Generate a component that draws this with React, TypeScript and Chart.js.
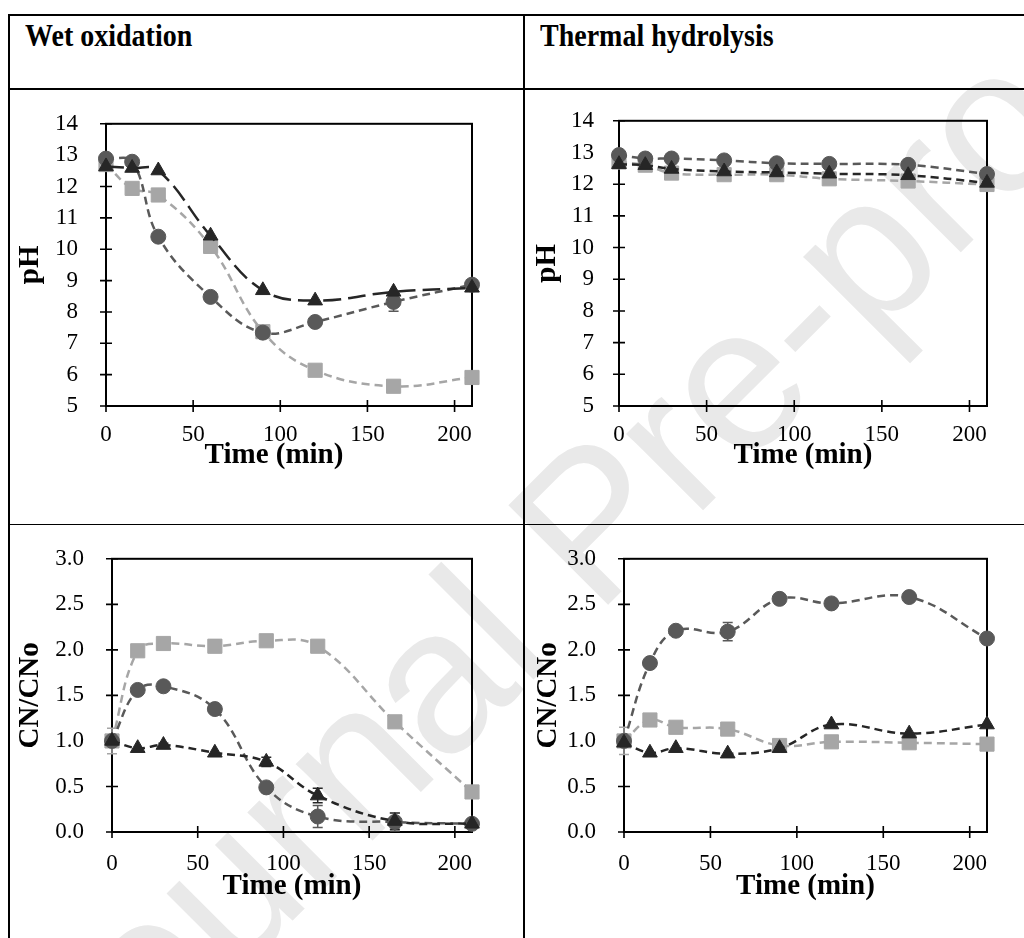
import React, { useEffect, useRef } from "react";
import { Chart, registerables } from "chart.js";
Chart.register(...registerables);

// ---------- data ----------
const times = [0, 15, 30, 60, 90, 120, 165, 210];
const xTickValues = [0, 50, 100, 150, 200];

// Wet oxidation – pH
const woPhCircle = [12.89, 12.79, 10.4, 8.48, 7.34, 7.68, 8.32, 8.87];
const woPhSquare = [12.7, 11.94, 11.73, 10.09, 7.37, 6.14, 5.63, 5.91];
const woPhTriangle = [12.64, 12.59, 12.51, 10.43, 8.69, 8.36, 8.64, 8.77];
const woPhCircleErr = [0, 0, 0, 0, 0, 0, 0.3, 0];
const woPhSquareErr = [0, 0, 0, 0, 0, 0, 0, 0];
const woPhTriangleErr = [0, 0, 0, 0, 0, 0, 0, 0];

// Thermal hydrolysis – pH
const thPhCircle = [12.92, 12.81, 12.81, 12.75, 12.66, 12.64, 12.61, 12.32];
const thPhSquare = [12.7, 12.6, 12.35, 12.3, 12.3, 12.17, 12.1, 11.99];
const thPhTriangle = [12.63, 12.6, 12.48, 12.4, 12.37, 12.33, 12.28, 12.04];
const thPhCircleErr = [0, 0, 0, 0, 0, 0, 0, 0];
const thPhSquareErr = [0, 0, 0, 0, 0, 0, 0, 0];
const thPhTriangleErr = [0, 0, 0, 0, 0, 0, 0, 0];

// Wet oxidation – CN/CNo
const woCnCircle = [1.0, 1.56, 1.6, 1.35, 0.49, 0.17, 0.11, 0.09];
const woCnSquare = [1.0, 1.99, 2.07, 2.04, 2.1, 2.04, 1.21, 0.44];
const woCnTriangle = [1.0, 0.92, 0.955, 0.87, 0.77, 0.4, 0.12, 0.09];
const woCnCircleErr = [0, 0, 0, 0, 0.05, 0.12, 0.1, 0];
const woCnSquareErr = [0.14, 0, 0, 0.07, 0, 0, 0, 0];
const woCnTriangleErr = [0.02, 0, 0.02, 0, 0.05, 0.08, 0.09, 0];

// Thermal hydrolysis – CN/CNo
const thCnCircle = [1.0, 1.855, 2.21, 2.2, 2.56, 2.51, 2.58, 2.125];
const thCnSquare = [1.0, 1.23, 1.15, 1.13, 0.95, 0.99, 0.98, 0.965];
const thCnTriangle = [0.98, 0.87, 0.92, 0.86, 0.92, 1.18, 1.08, 1.18];
const thCnCircleErr = [0, 0, 0, 0.1, 0.04, 0.04, 0.05, 0];
const thCnSquareErr = [0.15, 0, 0, 0, 0, 0, 0, 0];
const thCnTriangleErr = [0, 0, 0, 0, 0, 0, 0, 0];

const columnTitles = ["Wet oxidation", "Thermal hydrolysis"];
const phTitle = "pH";
const cnTitle = "CN/CNo";
const timeTitle = "Time (min)";
const watermark = "Journal Pre-proof";

// ---------- styles ----------
const CIRCLE = "#595959";
const SQUARE = "#a6a6a6";
const TRIANGLE = "#262626";
const SERIF = "'Liberation Serif', 'Times New Roman', serif";

type Rect = { left: number; top: number; width: number; height: number };
type Plot = { left: number; top: number; right: number; bottom: number };

type Panel = {
  canvas: Rect;
  plot: Plot;
  yMin: number;
  yMax: number;
  yStep: number;
  yDecimals: number;
  yTitle: string;
  circle: number[];
  square: number[];
  triangle: number[];
  circleErr: number[];
  squareErr: number[];
  triangleErr: number[];
  triangleDash: number[];
  yTitleX: number;
  xTitleY: number;
  xTitleShift: number;
  xTickPad: number;
  yTickPad: number;
};

const SHORT = [8, 5];
const LONG = [18, 7];

const panels: Panel[] = [
  {
    canvas: { left: 10, top: 90, width: 514, height: 434 },
    plot: { left: 106, top: 117, right: 472, bottom: 406 },
    yMin: 5, yMax: 14, yStep: 1, yDecimals: 0, yTitle: phTitle,
    circle: woPhCircle, square: woPhSquare, triangle: woPhTriangle,
    circleErr: woPhCircleErr, squareErr: woPhSquareErr, triangleErr: woPhTriangleErr,
    triangleDash: LONG, yTitleX: 31, xTitleY: 456, xTitleShift: -15, xTickPad: 7, yTickPad: 20,
  },
  {
    canvas: { left: 525, top: 90, width: 499, height: 434 },
    plot: { left: 619, top: 117, right: 987, bottom: 406 },
    yMin: 5, yMax: 14, yStep: 1, yDecimals: 0, yTitle: phTitle,
    circle: thPhCircle, square: thPhSquare, triangle: thPhTriangle,
    circleErr: thPhCircleErr, squareErr: thPhSquareErr, triangleErr: thPhTriangleErr,
    triangleDash: SHORT, yTitleX: 548, xTitleY: 456, xTitleShift: 0, xTickPad: 7, yTickPad: 17,
  },
  {
    canvas: { left: 10, top: 525, width: 514, height: 413 },
    plot: { left: 112, top: 543, right: 472, bottom: 832 },
    yMin: 0, yMax: 3, yStep: 0.5, yDecimals: 1, yTitle: cnTitle,
    circle: woCnCircle, square: woCnSquare, triangle: woCnTriangle,
    circleErr: woCnCircleErr, squareErr: woCnSquareErr, triangleErr: woCnTriangleErr,
    triangleDash: SHORT, yTitleX: 31, xTitleY: 887, xTitleShift: 0, xTickPad: 10, yTickPad: 20,
  },
  {
    canvas: { left: 525, top: 525, width: 499, height: 413 },
    plot: { left: 624, top: 543, right: 987, bottom: 832 },
    yMin: 0, yMax: 3, yStep: 0.5, yDecimals: 1, yTitle: cnTitle,
    circle: thCnCircle, square: thCnSquare, triangle: thCnTriangle,
    circleErr: thCnCircleErr, squareErr: thCnSquareErr, triangleErr: thCnTriangleErr,
    triangleDash: SHORT, yTitleX: 549, xTitleY: 887, xTitleShift: 0, xTickPad: 10, yTickPad: 20,
  },
];

const TICK_FONT = 23;
const TITLE_FONT = 29;

const framePlugin = {
  id: "frameTicks",
  beforeDatasetsDraw(chart: any) {
    const { ctx, chartArea: a, scales } = chart;
    ctx.save();
    ctx.strokeStyle = "#000";
    ctx.lineWidth = 2;
    ctx.strokeRect(a.left, a.top, a.right - a.left, a.bottom - a.top);
    ctx.lineWidth = 1.6;
    const tl = 6;
    ctx.beginPath();
    scales.x.ticks.forEach((t: any) => {
      const px = scales.x.getPixelForValue(t.value);
      ctx.moveTo(px, a.bottom - tl);
      ctx.lineTo(px, a.bottom + tl);
    });
    scales.y.ticks.forEach((t: any) => {
      const py = scales.y.getPixelForValue(t.value);
      ctx.moveTo(a.left - tl, py);
      ctx.lineTo(a.left + tl, py);
    });
    ctx.stroke();

    // error bars (under the markers)
    chart.data.datasets.forEach((ds: any, di: number) => {
      const meta = chart.getDatasetMeta(di);
      const errs: number[] = ds.errors || [];
      ctx.strokeStyle = ds.borderColor;
      ctx.lineWidth = 1.5;
      ctx.setLineDash([]);
      meta.data.forEach((pt: any, i: number) => {
        const e = errs[i];
        if (!e) return;
        const v = ds.data[i].y;
        const y1 = scales.y.getPixelForValue(v + e);
        const y2 = scales.y.getPixelForValue(v - e);
        ctx.beginPath();
        ctx.moveTo(pt.x, y1);
        ctx.lineTo(pt.x, y2);
        ctx.moveTo(pt.x - 5, y1);
        ctx.lineTo(pt.x + 5, y1);
        ctx.moveTo(pt.x - 5, y2);
        ctx.lineTo(pt.x + 5, y2);
        ctx.stroke();
      });
    });
    ctx.restore();
  },
  afterDraw(chart: any) {
    const o = chart.options.plugins.frameTicks || {};
    const { ctx, chartArea: a } = chart;
    ctx.save();
    ctx.fillStyle = "#000";
    ctx.font = `bold ${TITLE_FONT}px ${SERIF}`;
    ctx.textAlign = "center";
    ctx.textBaseline = "middle";
    ctx.fillText(o.text || "", (a.left + a.right) / 2 + (o.shift || 0), o.y || 0);
    ctx.restore();
  },
};

function series(label: string, values: number[], errors: number[], color: string, style: string, radius: number, dash: number[]) {
  return {
    label,
    data: times.map((t, i) => ({ x: t, y: values[i] })),
    errors,
    borderColor: color,
    backgroundColor: color,
    pointBackgroundColor: color,
    pointBorderColor: color,
    pointStyle: style,
    pointRadius: radius,
    pointBorderWidth: 1,
    borderWidth: 2.5,
    borderDash: dash,
    tension: 0.4,
    clip: false,
    fill: false,
  };
}

function ChartPanel({ p }: { p: Panel }) {
  const ref = useRef<HTMLCanvasElement | null>(null);
  useEffect(() => {
    if (!ref.current) return;
    const c = p.canvas;
    const yAxisWidth = p.plot.left - c.left;
    const xAxisHeight = c.top + c.height - p.plot.bottom;
    const titleLH = TITLE_FONT * 1.2;
    const chart = new Chart(ref.current, {
      type: "line",
      data: {
        datasets: [
          series("triangle", p.triangle, p.triangleErr, TRIANGLE, "triangle", 8.5, p.triangleDash),
          series("circle", p.circle, p.circleErr, CIRCLE, "circle", 7.5, SHORT),
          series("square", p.square, p.squareErr, SQUARE, "rect", 10, SHORT),
        ] as any,
      },
      options: {
        responsive: false,
        animation: false,
        events: [],
        layout: {
          padding: {
            left: 0,
            top: p.plot.top - c.top,
            right: c.left + c.width - p.plot.right,
            bottom: 0,
          },
        },
        plugins: {
          legend: { display: false },
          tooltip: { enabled: false },
          frameTicks: { text: timeTitle, shift: p.xTitleShift, y: p.xTitleY - c.top },
        },
        scales: {
          x: {
            type: "linear",
            min: 0,
            max: 210,
            afterBuildTicks: (s: any) => {
              s.ticks = xTickValues.map((v) => ({ value: v }));
            },
            afterFit: (s: any) => {
              s.height = xAxisHeight;
            },
            grid: { display: false },
            border: { display: false },
            ticks: {
              autoSkip: false,
              maxRotation: 0,
              padding: p.xTickPad,
              color: "#000",
              font: { family: SERIF, size: TICK_FONT },
            },
            title: { display: false },
          },
          y: {
            type: "linear",
            min: p.yMin,
            max: p.yMax,
            afterFit: (s: any) => {
              s.width = yAxisWidth;
            },
            grid: { display: false },
            border: { display: false },
            ticks: {
              stepSize: p.yStep,
              padding: p.yTickPad,
              color: "#000",
              font: { family: SERIF, size: TICK_FONT },
              callback: (v: any) => Number(v).toFixed(p.yDecimals),
            },
            title: {
              display: true,
              text: p.yTitle,
              color: "#000",
              font: { family: SERIF, size: TITLE_FONT, weight: "bold" },
              padding: { top: p.yTitleX - c.left - titleLH / 2, bottom: 0 },
            },
          },
        },
      } as any,
      plugins: [framePlugin],
    });
    return () => chart.destroy();
  }, [p]);
  const c = p.canvas;
  return (
    <canvas
      ref={ref}
      width={c.width}
      height={c.height}
      style={{ position: "absolute", left: c.left, top: c.top, width: c.width, height: c.height, zIndex: 1 }}
    />
  );
}

const line = (left: number, top: number, width: number, height: number) => (
  <div style={{ position: "absolute", left, top, width, height, background: "#000", zIndex: 2 }} />
);

export default function App() {
  return (
    <div
      style={{
        position: "absolute",
        left: 0,
        top: 0,
        width: 1024,
        height: 938,
        overflow: "hidden",
        background: "#fff",
      }}
    >
      <div
        style={{
          position: "absolute",
          left: 590,
          top: 522,
          transform: "translate(-50%, -50%) rotate(-45deg)",
          fontFamily: "'Liberation Sans', Arial, sans-serif",
          fontSize: 205,
          color: "#e9e9e9",
          whiteSpace: "nowrap",
          zIndex: 0,
          lineHeight: 1,
        }}
      >
        {watermark}
      </div>
      {line(8, 14, 1016, 2)}
      {line(8, 14, 2, 924)}
      {line(523, 14, 2, 924)}
      {line(8, 88, 1016, 2)}
      {line(8, 524, 1016, 1)}
      {columnTitles.map((t, i) => (
        <div
          key={t}
          style={{
            position: "absolute",
            left: i === 0 ? 25 : 540,
            top: 20,
            fontFamily: SERIF,
            fontWeight: "bold",
            fontSize: 28,
            lineHeight: "28px",
            whiteSpace: "nowrap",
            transform: "scaleY(1.12)",
            transformOrigin: "left top",
            zIndex: 2,
          }}
        >
          {t}
        </div>
      ))}
      {panels.map((p, i) => (
        <ChartPanel key={i} p={p} />
      ))}
    </div>
  );
}
